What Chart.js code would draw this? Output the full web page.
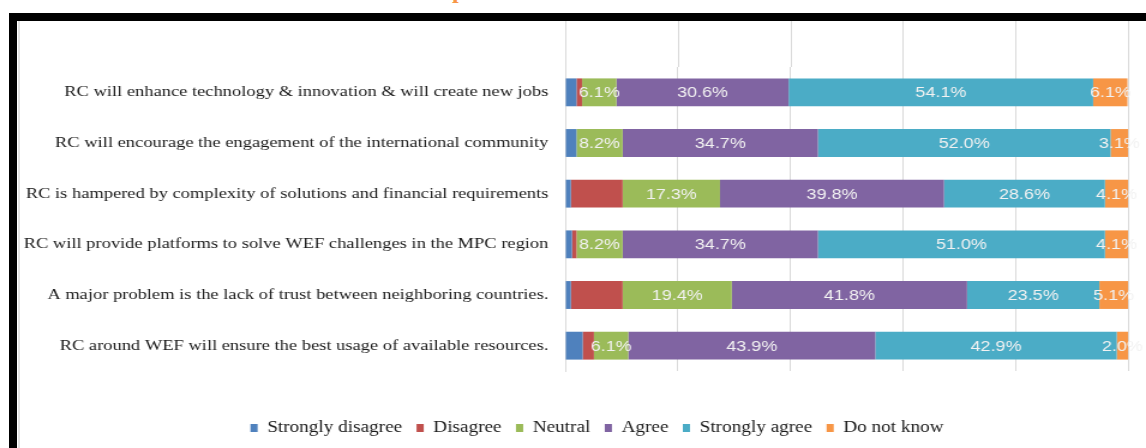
<!DOCTYPE html>
<html>
<head>
<meta charset="utf-8">
<script src="https://cdn.jsdelivr.net/npm/chart.js@4/dist/chart.umd.min.js"></script>
<style>
  body { margin: 0; background: #fff; }
  #wrap { position: relative; width: 1146px; height: 448px; overflow: hidden; background: #fff; }
  .heading { position: absolute; left: 452px; top: -22px; font: bold 24px/24px "Liberation Serif", serif; color: #F79646; }
  .frame { position: absolute; left: 9px; top: 13px; right: 0; bottom: 0; border-top: 8px solid #000; border-left: 8px solid #000; }
  .edge { position: absolute; left: 18px; top: 21px; bottom: 0; width: 2px; background: #e2e2e2; }
  #chart { position: absolute; left: 0; top: 0; }
</style>
</head>
<body>
<div id="wrap">
  <div class="heading">p</div>
  <div class="frame"></div>
  <div class="edge"></div>
  <!-- drawn at 955px wide and stretched to 1146px -->
  <canvas id="chart" width="955" height="448" style="width:1146px;height:448px"></canvas>
</div>
<script>
const statements = [
    'RC will enhance technology & innovation & will create new jobs',
    'RC will encourage the engagement of the international community',
    'RC is hampered by complexity of solutions and financial requirements',
    'RC will provide platforms to solve WEF challenges in the MPC region',
    'A major problem is the lack of trust between neighboring countries.',
    'RC around WEF will ensure the best usage of available resources.'
];
const stronglyDisagree = [2.0, 2.0, 1.0, 1.2, 1.0, 3.1];
const disagree = [1.0, 0, 9.2, 0.8, 9.2, 2.0];
const neutral = [6.1, 8.2, 17.3, 8.2, 19.4, 6.1];
const agree = [30.6, 34.7, 39.8, 34.7, 41.8, 43.9];
const stronglyAgree = [54.1, 52.0, 28.6, 51.0, 23.5, 42.9];
const doNotKnow = [6.1, 3.1, 4.1, 4.1, 5.1, 2.0];
const xTicks = [0, 20, 40, 60, 80, 100];

const serif = '"Liberation Serif", "Times New Roman", serif';
const gridColor = '#d9d9d9';

// percentage text in the middle of each labelled segment
const segmentLabels = {
    id: 'segmentLabels',
    afterDatasetsDraw(chart) {
        const ctx = chart.ctx;
        ctx.save();
        ctx.font = '15px "Liberation Sans", Arial, sans-serif';
        ctx.fillStyle = '#f2f2f2';
        ctx.textAlign = 'center';
        ctx.textBaseline = 'middle';
        chart.data.datasets.forEach((ds, i) => {
            if (!ds.showValues) return;
            chart.getDatasetMeta(i).data.forEach((bar, j) => {
                const v = ds.data[j];
                if (!v) return;
                const c = bar.getCenterPoint();
                ctx.fillText(v.toFixed(1) + '%', c.x, c.y + 1);
            });
        });
        ctx.restore();
    }
};

// vertical gridlines carry on up to the frame
const gridToTop = {
    id: 'gridToTop',
    beforeDatasetsDraw(chart) {
        const { ctx, chartArea, scales: { x } } = chart;
        ctx.save();
        ctx.strokeStyle = gridColor;
        ctx.lineWidth = 1;
        x.ticks.forEach(t => {
            const px = Math.round(x.getPixelForValue(t.value)) + 0.5;
            ctx.beginPath();
            ctx.moveTo(px, 21);
            ctx.lineTo(px, chartArea.top);
            ctx.stroke();
        });
        ctx.restore();
    }
};

// long statements run past the left padding; let the y axis labels use it
const wideLabels = {
    id: 'wideLabels',
    afterLayout(chart) {
        chart.scales.y.left = 0;
    }
};

const series = [
    { label: 'Strongly disagree', data: stronglyDisagree, color: '#4F81BD', showValues: false },
    { label: 'Disagree', data: disagree, color: '#C0504D', showValues: false },
    { label: 'Neutral', data: neutral, color: '#9BBB59', showValues: true },
    { label: 'Agree', data: agree, color: '#8064A2', showValues: true },
    { label: 'Strongly agree', data: stronglyAgree, color: '#4BACC6', showValues: true },
    { label: 'Do not know', data: doNotKnow, color: '#F79646', showValues: true }
];

new Chart(document.getElementById('chart'), {
    type: 'bar',
    data: {
        labels: statements,
        datasets: series.map(s => ({
            label: s.label,
            data: s.data,
            backgroundColor: s.color,
            borderWidth: 0,
            barPercentage: 0.55,
            categoryPercentage: 1,
            showValues: s.showValues
        }))
    },
    options: {
        indexAxis: 'y',
        responsive: false,
        animation: false,
        layout: { padding: { left: 55, right: 15, top: 67, bottom: 2 } },
        scales: {
            x: {
                stacked: true,
                min: 0,
                max: 100,
                afterBuildTicks: scale => { scale.ticks = xTicks.map(v => ({ value: v })); },
                afterFit: scale => { scale.height = 37; },
                ticks: { display: false },
                grid: { color: gridColor, drawTicks: false },
                border: { display: false }
            },
            y: {
                stacked: true,
                afterFit: scale => { scale.width = 416; },
                ticks: { color: '#1a1a1a', padding: 14, font: { family: serif, size: 15.4 } },
                grid: { display: false, drawTicks: false },
                border: { color: gridColor }
            }
        },
        plugins: {
            legend: {
                position: 'bottom',
                labels: {
                    boxWidth: 6,
                    boxHeight: 8,
                    padding: 12,
                    color: '#1a1a1a',
                    font: { family: serif, size: 16 }
                }
            },
            tooltip: { enabled: false }
        }
    },
    plugins: [gridToTop, segmentLabels, wideLabels]
});
</script>
</body>
</html>
